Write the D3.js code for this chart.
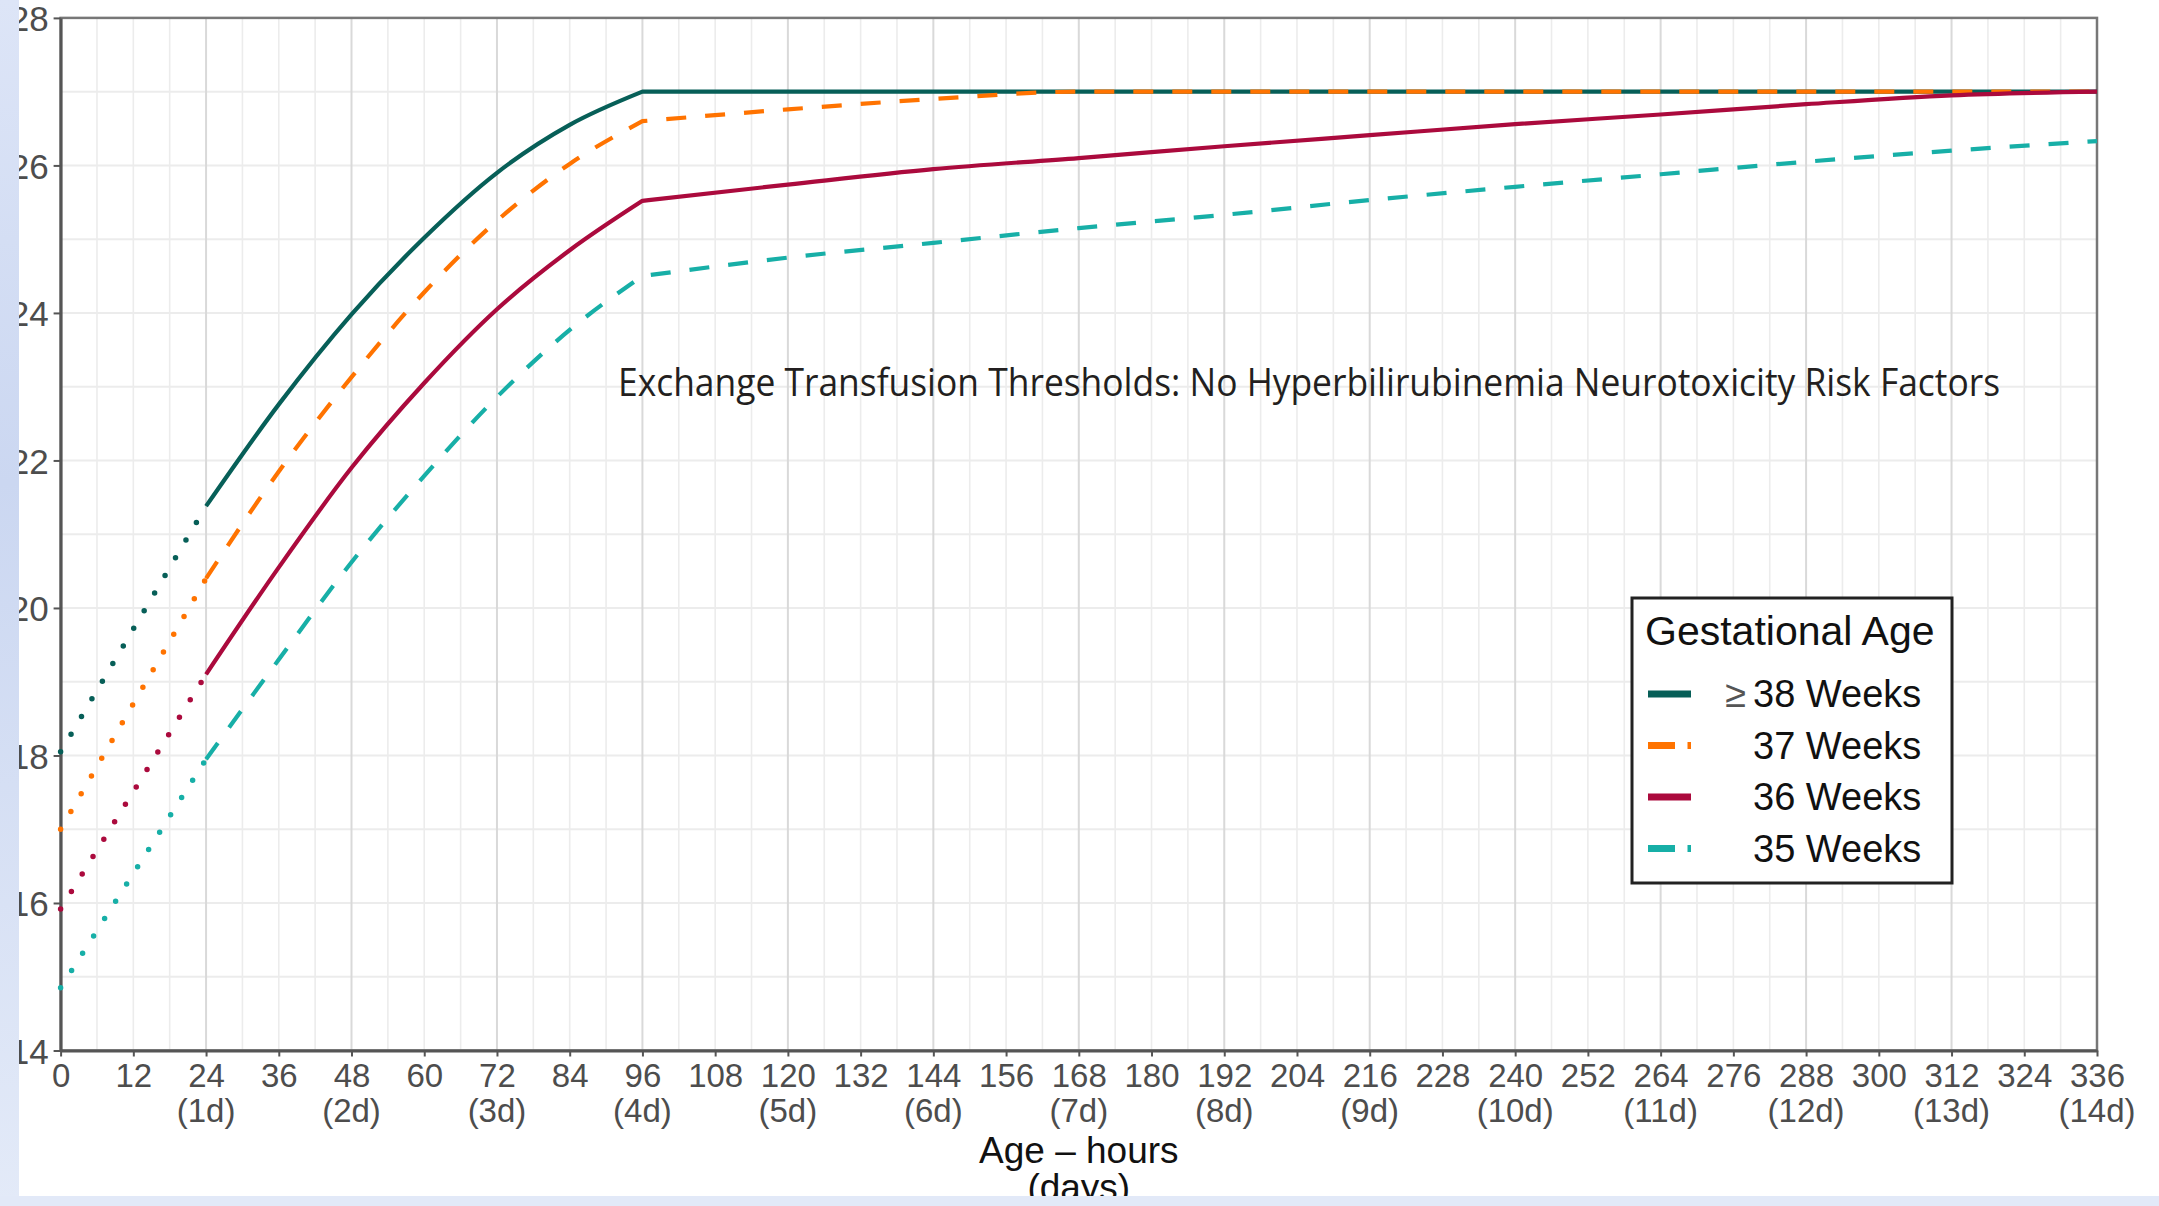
<!DOCTYPE html>
<html>
<head>
<meta charset="utf-8">
<script src="https://cdn.jsdelivr.net/npm/d3@7"></script>
<style>
  body { margin: 0; background: #ffffff; }
  svg { display: block; }
</style>
</head>
<body>
<div id="main"></div>
<script>
const W = 2159, H = 1206;

// age in hours where the thresholds were read
const hours = [0, 24, 36, 48, 60, 72, 84, 96, 120, 144, 168, 192, 216, 240, 264, 288, 312, 336];

const ga38 = [18.05, 21.38, 22.76, 23.98, 25.02, 25.9, 26.55, 27.0, 27.0, 27.0, 27.0, 27.0, 27.0, 27.0, 27.0, 27.0, 27.0, 27.0];
const ga37 = [17.0, 20.4, 21.85, 23.13, 24.28, 25.25, 26.02, 26.6, 26.76, 26.9, 27.0, 27.0, 27.0, 27.0, 27.0, 27.0, 27.0, 27.0];
const ga36 = [15.92, 19.1, 20.55, 21.9, 23.05, 24.05, 24.85, 25.52, 25.74, 25.95, 26.1, 26.26, 26.41, 26.56, 26.69, 26.83, 26.95, 27.0];
const ga35 = [14.85, 17.95, 19.3, 20.62, 21.79, 22.86, 23.77, 24.5, 24.75, 24.95, 25.15, 25.33, 25.53, 25.71, 25.88, 26.05, 26.2, 26.33];

const seriesNames = ["38 Weeks", "37 Weeks", "36 Weeks", "35 Weeks"];
const seriesPrefix = ["\u2265", "", "", ""];

const hourTicks = d3.range(0, 337, 12);
const dayTicks = d3.range(24, 337, 24);
const yTicks = [14, 16, 18, 20, 22, 24, 26, 28];

const chartTitle = "Exchange Transfusion Thresholds: No Hyperbilirubinemia Neurotoxicity Risk Factors";

const series = [
    { name: seriesNames[0], prefix: seriesPrefix[0], values: ga38, color: "#075f58", dash: null },
    { name: seriesNames[1], prefix: seriesPrefix[1], values: ga37, color: "#ff7300", dash: "20,19" },
    { name: seriesNames[2], prefix: seriesPrefix[2], values: ga36, color: "#ab0a3d", dash: null },
    { name: seriesNames[3], prefix: seriesPrefix[3], values: ga35, color: "#17afa7", dash: "20,19" },
];

const x = d3.scaleLinear().domain([0, 336]).range([60.6, 2097]);
const y = d3.scaleLinear().domain([14, 28]).range([1050.5, 17.9]);

const svg = d3.select("#main").append("svg")
    .attr("width", W).attr("height", H)
    .style("font-family", "'Liberation Sans', Arial, sans-serif");

const defs = svg.append("defs");
let grad = defs.append("linearGradient").attr("id", "slide")
    .attr("x1", 0).attr("y1", 0).attr("x2", 0).attr("y2", 1);
grad.append("stop").attr("offset", "0%").attr("stop-color", "#dde5f7");
grad.append("stop").attr("offset", "40%").attr("stop-color", "#cbd7f1");
grad.append("stop").attr("offset", "100%").attr("stop-color", "#e3eaf8");

svg.append("rect").attr("width", W).attr("height", H).attr("fill", "#ffffff");

// grid
let grid = svg.append("g");
grid.selectAll(".hy").data(d3.range(14, 29, 1)).enter().append("line")
    .attr("x1", x(0)).attr("x2", x(336))
    .attr("y1", d => y(d)).attr("y2", d => y(d))
    .attr("stroke", "#ececec").attr("stroke-width", 2);
grid.selectAll(".vx").data(d3.range(0, 337, 6).filter(h => h % 24 !== 0)).enter().append("line")
    .attr("x1", d => x(d)).attr("x2", d => x(d))
    .attr("y1", y(14)).attr("y2", y(28))
    .attr("stroke", "#ececec").attr("stroke-width", 1.6);
grid.selectAll(".vm").data(dayTicks).enter().append("line")
    .attr("x1", d => x(d)).attr("x2", d => x(d))
    .attr("y1", y(14)).attr("y2", y(28))
    .attr("stroke", "#d9d9d9").attr("stroke-width", 2);

// panel border
svg.append("rect")
    .attr("x", x(0)).attr("y", y(28))
    .attr("width", x(336) - x(0)).attr("height", y(14) - y(28))
    .attr("fill", "none").attr("stroke", "#777").attr("stroke-width", 2.5);

// axes
let xAxis = svg.append("g").attr("transform", `translate(0,${y(14)})`)
    .call(d3.axisBottom(x).tickValues(hourTicks).tickSize(6).tickSizeOuter(0).tickPadding(4));
let yAxis = svg.append("g").attr("transform", `translate(${x(0)},0)`)
    .call(d3.axisLeft(y).tickValues(yTicks).tickSize(7).tickSizeOuter(0).tickPadding(5));
[xAxis, yAxis].forEach(a => {
    a.select(".domain").attr("stroke", "#555").attr("stroke-width", 3);
    a.selectAll(".tick line").attr("stroke", "#555").attr("stroke-width", 2);
    a.selectAll(".tick text").attr("fill", "#4d4d4d")
        .style("font-family", "'Liberation Sans', Arial, sans-serif");
});
xAxis.selectAll(".tick text").style("font-size", "33px").attr("dy", "0.8em");
yAxis.selectAll(".tick text").style("font-size", "35px").attr("dy", "0.36em");

// day labels under the hour ticks
svg.append("g").selectAll("text").data(dayTicks).enter().append("text")
    .attr("x", d => x(d)).attr("y", 1122)
    .attr("text-anchor", "middle").attr("fill", "#4d4d4d")
    .style("font-size", "33px")
    .text(d => `(${d / 24}d)`);

// axis title
svg.append("text").attr("x", (x(0) + x(336)) / 2).attr("y", 1163)
    .attr("text-anchor", "middle").attr("fill", "#111").style("font-size", "37px")
    .text("Age \u2013 hours");
svg.append("text").attr("x", (x(0) + x(336)) / 2).attr("y", 1200)
    .attr("text-anchor", "middle").attr("fill", "#111").style("font-size", "37px")
    .text("(days)");

// lines: dotted before 24h, smooth rise to 96h, then slow part
const lineSmooth = d3.line().x(d => x(d[0])).y(d => y(d[1])).curve(d3.curveMonotoneX);
const lineStraight = d3.line().x(d => x(d[0])).y(d => y(d[1]));
const i96 = hours.indexOf(96);

let lineG = svg.append("g");
series.forEach(s => {
    let pts = hours.map((h, i) => [h, s.values[i]]);
    lineG.append("path")
        .attr("d", lineStraight(pts.slice(0, 2)))
        .attr("fill", "none").attr("stroke", s.color)
        .attr("stroke-width", 5.5).attr("stroke-linecap", "round")
        .attr("stroke-dasharray", "0,20.5");
    let rise = lineSmooth(pts.slice(1, i96 + 1));
    let tail = lineSmooth(pts.slice(i96)).replace(/^M/, "L");
    lineG.append("path")
        .attr("d", rise + tail)
        .attr("fill", "none").attr("stroke", s.color)
        .attr("stroke-width", 4.2)
        .attr("stroke-linejoin", "round")
        .attr("stroke-dasharray", s.dash);
});

// chart title inside panel
svg.append("text")
    .attr("x", 618).attr("y", 396)
    .attr("textLength", 1382).attr("lengthAdjust", "spacingAndGlyphs")
    .attr("fill", "#231f20")
    .style("font-family", "'Open Sans', 'Noto Sans', sans-serif")
    .style("font-size", "38px")
    .text(chartTitle);

// legend
let legend = svg.append("g");
legend.append("rect")
    .attr("x", 1632).attr("y", 598).attr("width", 320).attr("height", 285)
    .attr("fill", "#fff").attr("stroke", "#222").attr("stroke-width", 3);
legend.append("text").attr("x", 1645).attr("y", 645)
    .attr("fill", "#111").style("font-size", "41px").text("Gestational Age");
let entry = legend.selectAll(".entry").data(series).enter().append("g")
    .attr("transform", (d, i) => `translate(0,${694 + i * 51.5})`);
entry.append("line")
    .attr("x1", 1648).attr("x2", 1691).attr("y1", 0).attr("y2", 0)
    .attr("stroke", d => d.color).attr("stroke-width", 7)
    .attr("stroke-dasharray", d => d.dash ? "27,12.5" : null);
entry.append("text").attr("x", 1753).attr("y", 13)
    .attr("fill", "#111").style("font-size", "38px")
    .text(d => d.name);
entry.append("text").attr("x", 1746).attr("y", 13).attr("text-anchor", "end")
    .attr("fill", "#555").style("font-size", "38px")
    .text(d => d.prefix);

// slide background strips that crop the figure
svg.append("rect").attr("x", 0).attr("y", 0).attr("width", 19).attr("height", H).attr("fill", "url(#slide)");
svg.append("rect").attr("x", 0).attr("y", 1196).attr("width", W).attr("height", 10).attr("fill", "#e2e9f8");
</script>
</body>
</html>
